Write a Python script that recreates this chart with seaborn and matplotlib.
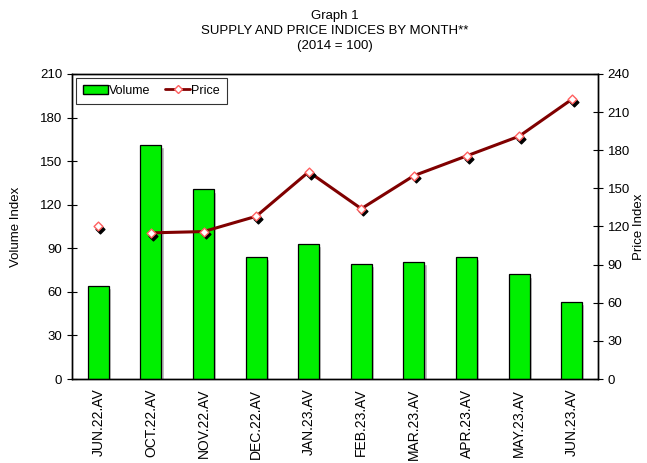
import numpy as np
import pandas as pd
import seaborn as sns
import matplotlib.pyplot as plt
import matplotlib.transforms as mtransforms
from matplotlib.patches import Patch
from matplotlib.lines import Line2D

# datos
months = ["JUN.22.AV", "OCT.22.AV", "NOV.22.AV", "DEC.22.AV", "JAN.23.AV",
          "FEB.23.AV", "MAR.23.AV", "APR.23.AV", "MAY.23.AV", "JUN.23.AV"]
volume = [64, 161, 130.5, 84, 93, 79.5, 80.5, 84, 72, 53]
price = [120.5, 115, 116, 128, 163, 134, 160, 175.5, 191, 220]

vol_ticks = [0, 30, 60, 90, 120, 150, 180, 210]
price_ticks = [0, 30, 60, 90, 120, 150, 180, 210, 240]

sns.set_style("white")
plt.rcParams['font.family'] = ['Liberation Sans', 'DejaVu Sans']
plt.rcParams['text.color'] = 'black'
plt.rcParams['axes.labelcolor'] = 'black'
plt.rcParams['xtick.color'] = 'black'
plt.rcParams['ytick.color'] = 'black'

df = pd.DataFrame({"month": months, "volume": volume, "price": price,
                   "pos": np.arange(len(months))})

fig = plt.figure(figsize=(6.47, 4.63), dpi=100)
ax = fig.add_axes([0.1113, 0.1814, 0.8130, 0.6588])

sns.barplot(data=df, x="month", y="volume", color="#00f000", width=0.4,
            edgecolor="black", linewidth=0.9, saturation=1, ax=ax, zorder=3)
# sombra gris de las barras
shadow = mtransforms.offset_copy(ax.transData, fig=fig, x=1.5, y=-1.5, units='points')
ax.bar(df["pos"], df["volume"], width=0.4, color="#b0b0b0", transform=shadow, zorder=2)

ax.set_ylim(0, 210)
ax.set_xlim(-0.5, len(months) - 0.5)
ax.set_yticks(vol_ticks)
ax.set_ylabel("Volume Index", fontsize=9.5, labelpad=13)
ax.set_xlabel("")
ax.set_xticks(np.arange(len(months)))
ax.set_xticklabels(months, rotation=90, fontsize=10)
ax.tick_params(axis='x', length=0, pad=7)
ax.set_xticks(np.arange(len(months) + 1) - 0.5, minor=True)
ax.tick_params(axis='x', which='minor', direction='inout', length=6, width=0.8)
ax.tick_params(axis='y', direction='inout', length=7, width=0.8, labelsize=9.5)

ax2 = ax.twinx()
# linea sin unir el primer punto (meses faltantes)
sns.lineplot(data=df.iloc[1:], x="pos", y="price", color="#800000", linewidth=2.2,
             ax=ax2, zorder=3)
sh2 = mtransforms.offset_copy(ax2.transData, fig=fig, x=1.5, y=-2, units='points')
ax2.scatter(df["pos"], df["price"], marker="D", s=20, color="black",
            transform=sh2, zorder=4)
ax2.scatter(df["pos"], df["price"], marker="D", s=20, facecolor="white",
            edgecolor="#ff6060", linewidth=1, zorder=5)
ax2.set_ylim(0, 240)
ax2.set_yticks(price_ticks)
ax2.set_ylabel("Price Index", fontsize=9.5, labelpad=2)
ax2.set_xlabel("")
ax2.tick_params(axis='y', direction='inout', length=7, width=0.8, labelsize=9.5)

for a in (ax, ax2):
    for s in a.spines.values():
        s.set_color("black")
        s.set_linewidth(1)

handles = [Patch(facecolor="#00f000", edgecolor="black", label="Volume"),
           Line2D([0], [0], color="#800000", lw=2, marker="D", markersize=4.5,
                  markerfacecolor="white", markeredgecolor="#ff6060", label="Price")]
leg = ax2.legend(handles=handles, loc="upper left", ncol=2, fontsize=9,
                 frameon=True, fancybox=False, edgecolor="black",
                 bbox_to_anchor=(-0.005, 1.008), borderpad=0.55, columnspacing=1.2,
                 handlelength=2.0, handletextpad=0.1, borderaxespad=0.5)
leg.get_frame().set_linewidth(0.8)

fig.text(0.518, 0.978, "Graph 1\nSUPPLY AND PRICE INDICES BY MONTH**\n(2014 = 100)",
         ha="center", va="top", fontsize=9.5, linespacing=1.3)

fig.savefig("out.png", dpi=100)
